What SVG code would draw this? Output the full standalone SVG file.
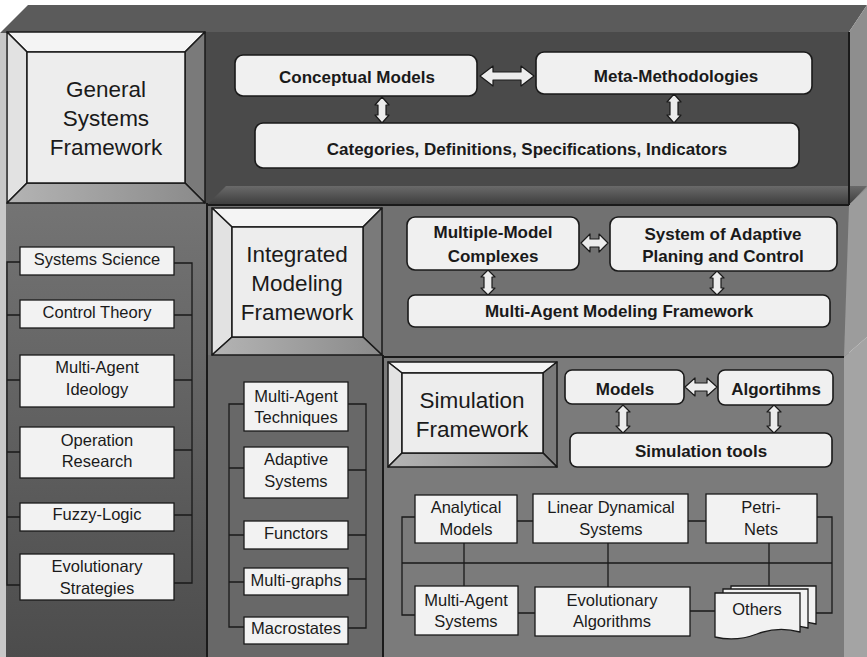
<svg xmlns="http://www.w3.org/2000/svg" width="867" height="657" viewBox="0 0 867 657">
<defs>
<linearGradient id="leftcol" x1="0" y1="0" x2="0" y2="1">
<stop offset="0" stop-color="#747474"/>
<stop offset="1" stop-color="#4c4c4c"/>
</linearGradient>
<linearGradient id="tier2top" x1="0" y1="0" x2="0" y2="1">
<stop offset="0" stop-color="#6a6a6a"/>
<stop offset="1" stop-color="#3c3c3c"/>
</linearGradient>
<linearGradient id="botbev" x1="0" y1="0" x2="1" y2="0">
<stop offset="0" stop-color="#b4b4b4"/>
<stop offset="1" stop-color="#8a8a8a"/>
</linearGradient>
</defs>
<style>
.edge{stroke:#1a1a1a;stroke-width:2;fill:none}
.bev{stroke:#1a1a1a;stroke-width:1.5;stroke-linejoin:round}
.rbox{fill:#f0f0f0;stroke:#1a1a1a;stroke-width:1.6}
.box{fill:#f2f2f2;stroke:#1a1a1a;stroke-width:1.3}
.arr{fill:#ececec;stroke:#1a1a1a;stroke-width:1.2;stroke-linejoin:round}
.con{stroke:#1a1a1a;stroke-width:1.3;fill:none}
.big{font-family:"Liberation Sans",Arial,sans-serif;font-size:22.5px;fill:#1a1a1a;text-anchor:middle}
.bold{font-family:"Liberation Sans",Arial,sans-serif;font-size:17px;font-weight:bold;fill:#1a1a1a;text-anchor:middle}
.reg{font-family:"Liberation Sans",Arial,sans-serif;font-size:16.5px;fill:#1a1a1a;text-anchor:middle}
</style>
<rect x="0" y="0" width="867" height="657" fill="#ffffff"/>
<g id="panels">
<polygon points="0,33 28,5 867,5 849,32" fill="#5b5b5b"/>
<rect x="205" y="32" width="644" height="173" fill="#4a4a4a"/>
<polygon points="849,32 867,5 867,190 849,205" fill="#8e8e8e"/>
<polygon points="207,205 226,186 867,186 849,205" fill="url(#tier2top)"/>
<rect x="207" y="205" width="642" height="152" fill="#717171"/>
<polygon points="849,205 867,188 867,337 844,357" fill="#9c9c9c"/>
<rect x="383" y="357" width="462" height="300" fill="#7b7b7b"/>
<polygon points="844,357 867,337 867,657 844,657" fill="#a4a4a4"/>
<rect x="5" y="203" width="202" height="454" fill="url(#leftcol)"/>
<rect x="0" y="33" width="6" height="624" fill="#c8c8c8"/>
<rect x="207" y="355" width="176" height="302" fill="#686868"/>
<path class="edge" d="M207 203 V657 M383 355 V657 M207 205 H849 M383 357 H844 M849 32 V205"/>
</g>
<g id="general-systems-framework">
<polygon class="bev" points="7,32 205,32 185,52 27,52" fill="#f4f4f4"/>
<polygon class="bev" points="7,32 27,52 27,183 7,203" fill="#e2e2e2"/>
<polygon class="bev" points="205,32 205,203 185,183 185,52" fill="#7a7a7a"/>
<polygon class="bev" points="7,203 27,183 185,183 205,203" fill="url(#botbev)"/>
<rect class="bev" x="27" y="52" width="158" height="131" fill="#ededed"/>
<text class="big" x="106" y="97">General</text>
<text class="big" x="106" y="126">Systems</text>
<text class="big" x="106" y="155">Framework</text>
</g>
<g id="integrated-modeling-framework">
<polygon class="bev" points="212,208 382,208 363,227 232,227" fill="#f4f4f4"/>
<polygon class="bev" points="212,208 232,227 232,337 212,355" fill="#e2e2e2"/>
<polygon class="bev" points="382,208 382,355 363,337 363,227" fill="#7a7a7a"/>
<polygon class="bev" points="212,355 232,337 363,337 382,355" fill="url(#botbev)"/>
<rect class="bev" x="232" y="227" width="131" height="110" fill="#ededed"/>
<text class="big" x="297" y="262">Integrated</text>
<text class="big" x="297" y="291">Modeling</text>
<text class="big" x="297" y="320">Framework</text>
</g>
<g id="simulation-framework">
<polygon class="bev" points="388,362 557,362 543,373 402,373" fill="#f4f4f4"/>
<polygon class="bev" points="388,362 402,373 402,453 388,467" fill="#e2e2e2"/>
<polygon class="bev" points="557,362 557,467 543,453 543,373" fill="#7a7a7a"/>
<polygon class="bev" points="388,467 402,453 543,453 557,467" fill="url(#botbev)"/>
<rect class="bev" x="402" y="373" width="141" height="80" fill="#ededed"/>
<text class="big" x="472" y="408">Simulation</text>
<text class="big" x="472" y="437">Framework</text>
</g>
<g id="connectors">
<path class="arr" d="M480 76 L493 66 L493 72 L521 72 L521 66 L534 76 L521 86 L521 80 L493 80 L493 86 Z"/>
<path class="arr" d="M382 97 L389 105 L386 105 L386 115 L389 115 L382 123 L375 115 L378 115 L378 105 L375 105 Z"/>
<path class="arr" d="M674 94 L681 102 L678 102 L678 115 L681 115 L674 123 L667 115 L670 115 L670 102 L667 102 Z"/>
<path class="arr" d="M581 243 L590 234 L590 239 L599 239 L599 234 L608 243 L599 252 L599 247 L590 247 L590 252 Z"/>
<path class="arr" d="M488 270 L495 277 L492 277 L492 288 L495 288 L488 295 L481 288 L484 288 L484 277 L481 277 Z"/>
<path class="arr" d="M717 271 L724 278 L721 278 L721 288 L724 288 L717 295 L710 288 L713 288 L713 278 L710 278 Z"/>
<path class="arr" d="M685 387 L695 378 L695 383 L707 383 L707 378 L717 387 L707 396 L707 391 L695 391 L695 396 Z"/>
<path class="arr" d="M623 405 L630 412 L627 412 L627 426 L630 426 L623 433 L616 426 L619 426 L619 412 L616 412 Z"/>
<path class="arr" d="M774 405 L781 412 L778 412 L778 426 L781 426 L774 433 L767 426 L770 426 L770 412 L767 412 Z"/>
<path class="con" d="M20 262 H7 V585 H20 M7 315 H20 M7 380 H20 M7 452 H20 M7 517 H20"/>
<path class="con" d="M174 263 H192 V583 H174 M174 315 H192 M174 380 H192 M174 450 H192 M174 515 H192"/>
<path class="con" d="M244 404 H229 V627 H244 M229 468 H244 M229 535 H244 M229 582 H244"/>
<path class="con" d="M348 404 H366 V628 H348 M348 470 H366 M348 535 H366 M348 579 H366"/>
<path class="con" d="M402 563 H832 M415 517 H402 V615 H415 M817 517 H832 V613 H816 M517 521 H533 M688 521 H706 M518 613 H535 M690 611 H715 M464 543 V586 M608 543 V587 M769 543 V586"/>
</g>
<g id="conceptual-models">
<rect class="rbox" x="235" y="55" width="242" height="41" rx="8"/>
<text class="bold" x="357" y="83">Conceptual Models</text>
</g>
<g id="meta-methodologies">
<rect class="rbox" x="536" y="52" width="276" height="42" rx="8"/>
<text class="bold" x="676" y="82">Meta-Methodologies</text>
</g>
<g id="categories">
<rect class="rbox" x="255" y="123" width="544" height="45" rx="8"/>
<text class="bold" x="527" y="155">Categories, Definitions, Specifications, Indicators</text>
</g>
<g id="multiple-model-complexes">
<rect class="rbox" x="407" y="217" width="172" height="53" rx="8"/>
<text class="bold" x="493" y="238">Multiple-Model</text>
<text class="bold" x="493" y="262">Complexes</text>
</g>
<g id="system-of-adaptive-planing">
<rect class="rbox" x="610" y="217" width="227" height="54" rx="8"/>
<text class="bold" x="723" y="240">System of Adaptive</text>
<text class="bold" x="723" y="262">Planing and Control</text>
</g>
<g id="multi-agent-modeling-framework">
<rect class="rbox" x="408" y="295" width="422" height="32" rx="7"/>
<text class="bold" x="619" y="317">Multi-Agent Modeling Framework</text>
</g>
<g id="models">
<rect class="rbox" x="565" y="370" width="119" height="34" rx="7"/>
<text class="bold" x="625" y="395">Models</text>
</g>
<g id="algortihms">
<rect class="rbox" x="718" y="370" width="115" height="35" rx="7"/>
<text class="bold" x="776" y="395">Algortihms</text>
</g>
<g id="simulation-tools">
<rect class="rbox" x="570" y="433" width="262" height="34" rx="7"/>
<text class="bold" x="701" y="457">Simulation tools</text>
</g>
<g id="systems-science">
<rect class="box" x="20" y="247" width="154" height="28"/>
<text class="reg" x="97" y="265">Systems Science</text>
</g>
<g id="control-theory">
<rect class="box" x="20" y="300" width="154" height="28"/>
<text class="reg" x="97" y="318">Control Theory</text>
</g>
<g id="multi-agent-ideology">
<rect class="box" x="20" y="355" width="154" height="52"/>
<text class="reg" x="97" y="373">Multi-Agent</text>
<text class="reg" x="97" y="395">Ideology</text>
</g>
<g id="operation-research">
<rect class="box" x="20" y="427" width="154" height="51"/>
<text class="reg" x="97" y="446">Operation</text>
<text class="reg" x="97" y="467">Research</text>
</g>
<g id="fuzzy-logic">
<rect class="box" x="20" y="503" width="154" height="28"/>
<text class="reg" x="97" y="520">Fuzzy-Logic</text>
</g>
<g id="evolutionary-strategies">
<rect class="box" x="20" y="554" width="154" height="46"/>
<text class="reg" x="97" y="572">Evolutionary</text>
<text class="reg" x="97" y="594">Strategies</text>
</g>
<g id="multi-agent-techniques">
<rect class="box" x="244" y="382" width="104" height="49"/>
<text class="reg" x="296" y="402">Multi-Agent</text>
<text class="reg" x="296" y="423">Techniques</text>
</g>
<g id="adaptive-systems">
<rect class="box" x="244" y="447" width="104" height="51"/>
<text class="reg" x="296" y="465">Adaptive</text>
<text class="reg" x="296" y="487">Systems</text>
</g>
<g id="functors">
<rect class="box" x="244" y="521" width="104" height="28"/>
<text class="reg" x="296" y="539">Functors</text>
</g>
<g id="multi-graphs">
<rect class="box" x="244" y="568" width="104" height="27"/>
<text class="reg" x="296" y="586">Multi-graphs</text>
</g>
<g id="macrostates">
<rect class="box" x="244" y="617" width="104" height="27"/>
<text class="reg" x="296" y="634">Macrostates</text>
</g>
<g id="analytical-models">
<rect class="box" x="415" y="495" width="102" height="48"/>
<text class="reg" x="466" y="513">Analytical</text>
<text class="reg" x="466" y="535">Models</text>
</g>
<g id="linear-dynamical-systems">
<rect class="box" x="533" y="494" width="155" height="49"/>
<text class="reg" x="611" y="513">Linear Dynamical</text>
<text class="reg" x="611" y="535">Systems</text>
</g>
<g id="petri-nets">
<rect class="box" x="706" y="494" width="111" height="49"/>
<text class="reg" x="761" y="513">Petri-</text>
<text class="reg" x="761" y="535">Nets</text>
</g>
<g id="multi-agent-systems">
<rect class="box" x="415" y="586" width="103" height="49"/>
<text class="reg" x="466" y="606">Multi-Agent</text>
<text class="reg" x="466" y="627">Systems</text>
</g>
<g id="evolutionary-algorithms">
<rect class="box" x="535" y="587" width="155" height="49"/>
<text class="reg" x="612" y="606">Evolutionary</text>
<text class="reg" x="612" y="627">Algorithms</text>
</g>
<g id="others">
<path class="box" d="M731 586 H816 V624 Q794 618 773 626 T731 629 Z"/>
<path class="box" d="M723 589 H808 V628 Q786 622 765 630 T723 633 Z"/>
<path class="box" d="M715 593 H800 V632 Q778 626 757 634 T715 637 Z"/>
<text class="reg" x="757" y="615">Others</text>
</g>
</svg>
